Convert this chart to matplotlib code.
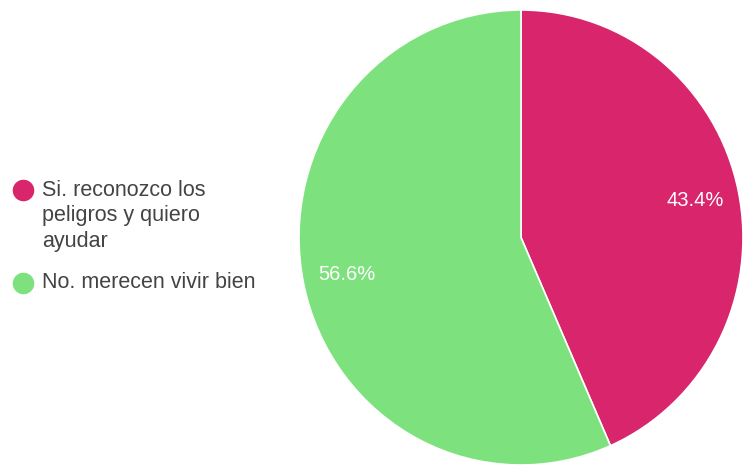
import matplotlib
matplotlib.use("Agg")
import matplotlib.pyplot as plt

plt.rcParams['font.family'] = ['Liberation Sans', 'DejaVu Sans']

labels = ["Si. reconozco los\npeligros y quiero\nayudar", "No. merecen vivir bien"]
shares = [43.4, 56.6]
colors = ["#d8256b", "#7de27d"]

W, H = 747, 469
fig = plt.figure(figsize=(W / 100, H / 100), dpi=100)

# pie axes placed in pixel units
left, right, top, bottom = 299, 743, 10, 465
ax = fig.add_axes([left / W, (H - bottom) / H, (right - left) / W, (bottom - top) / H])
wedges, texts, autotexts = ax.pie(
    shares, colors=colors, startangle=90, counterclock=False,
    autopct=lambda p: f"{p:.1f}%", pctdistance=0.8,
    wedgeprops=dict(edgecolor="white", linewidth=1.2),
    textprops=dict(color="white", fontsize=14.5),
)
ax.set_aspect('auto')
ax.set_xlim(-1, 1)
ax.set_ylim(-1, 1)
ax.axis('off')

# legend on the left, laid out in pixel coordinates
lax = fig.add_axes([0, 0, 1, 1])
lax.set_xlim(0, W)
lax.set_ylim(H, 0)
lax.axis('off')
line_h = 25.5
entry_gap = 42
y = 190
for lab, col in zip(labels, colors):
    lax.plot([23], [y], marker='o', markersize=14.5, color=col, linestyle='none')
    lines = lab.split("\n")
    for i, ln in enumerate(lines):
        lax.text(42, y + i * line_h, ln, fontsize=15.5, color="#444444",
                 va='center', ha='left')
    y += (len(lines) - 1) * line_h + entry_gap

fig.savefig("out.png", dpi=100, facecolor="white")
